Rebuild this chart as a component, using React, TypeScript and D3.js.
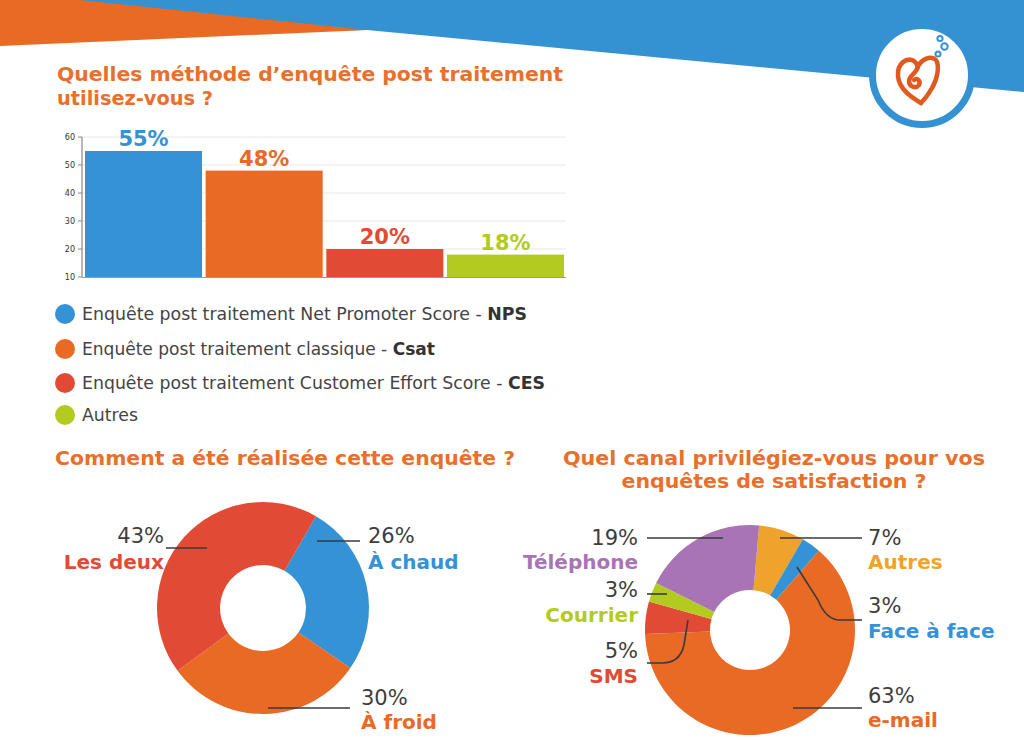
import React from "react";
import * as d3 from "d3";

// ---------- DATA ----------
const barValues = [55, 48, 20, 18];
const barColors = ["#3592d5", "#e86a25", "#e14b35", "#b3cb21"];
const yTicks = [10, 20, 30, 40, 50, 60];
const legendText = [
  "Enquête post traitement Net Promoter Score - ",
  "Enquête post traitement classique - ",
  "Enquête post traitement Customer Effort Score - ",
  "Autres",
];
const legendBold = ["NPS", "Csat", "CES", ""];

const modeLabels = ["À chaud", "À froid", "Les deux"];
const modeValues = [26, 30, 43];
const modeColors = ["#3592d5", "#e86a25", "#e14b35"];

const canalLabels = ["Autres", "Face à face", "e-mail", "SMS", "Courrier", "Téléphone"];
const canalValues = [7, 3, 63, 5, 3, 19];
const canalColors = ["#f0a32c", "#3592d5", "#e86a25", "#e14b35", "#b3cb21", "#a874b5"];

// ---------- LAYOUT ----------
const FONT = "'DejaVu Sans', Verdana, sans-serif";
const TITLE = "#e8702a";
const PCT = "#3d3d3d";
const LINE = "#3a3a3a";
const legendY = [314, 349, 383, 415];
const legendWidths = [445, 353, 463, 56];

type LabelLayout = { x: number; anchor: "start" | "end"; y1: number; y2: number; path: string };

const modeLayout: LabelLayout[] = [
  { x: 368, anchor: "start", y1: 543, y2: 569, path: "M317,541 L360,541" },
  { x: 361, anchor: "start", y1: 705, y2: 729, path: "M268,708 L350,708" },
  { x: 164, anchor: "end", y1: 543, y2: 569, path: "M166,548 L207,548" },
];

const canalLayout: LabelLayout[] = [
  { x: 868, anchor: "start", y1: 545, y2: 569, path: "M780,538 L862,538" },
  { x: 868, anchor: "start", y1: 613, y2: 638, path: "M797,567 L818,600 Q826,620 840,620 L862,620" },
  { x: 868, anchor: "start", y1: 703, y2: 727, path: "M793,708 L862,708" },
  { x: 638, anchor: "end", y1: 658, y2: 683, path: "M688,620 L684,645 Q680,663 662,663 L647,663" },
  { x: 638, anchor: "end", y1: 597, y2: 622, path: "M647,594 L667,594" },
  { x: 638, anchor: "end", y1: 545, y2: 569, path: "M647,538 L723,538" },
];

function Donut({
  cx, cy, r, r0, start, values, colors, labels, layout,
}: {
  cx: number; cy: number; r: number; r0: number; start: number;
  values: number[]; colors: string[]; labels: string[]; layout: LabelLayout[];
}) {
  const a0 = (start * Math.PI) / 180;
  const pie = d3.pie<number>().sort(null).value((d) => d).startAngle(a0).endAngle(a0 + 2 * Math.PI);
  const arc = d3.arc<d3.PieArcDatum<number>>().innerRadius(r0).outerRadius(r);
  const arcs = pie(values);
  return (
    <g>
      <g transform={`translate(${cx},${cy})`}>
        {arcs.map((a, i) => (
          <path key={i} d={arc(a) || ""} fill={colors[i]} />
        ))}
      </g>
      {layout.map((l, i) => (
        <g key={i}>
          <path d={l.path} fill="none" stroke={LINE} strokeWidth={1.6} />
          <text x={l.x} y={l.y1} textAnchor={l.anchor} fontFamily={FONT} fontSize={21} fill={PCT}>
            {values[i]}%
          </text>
          <text x={l.x} y={l.y2} textAnchor={l.anchor} fontFamily={FONT} fontSize={20} fontWeight="bold" fill={colors[i]}>
            {labels[i]}
          </text>
        </g>
      ))}
    </g>
  );
}

export default function App() {
  const x = d3.scaleBand<number>().domain(barValues.map((_, i) => i)).range([85, 564]).paddingInner(0.03).paddingOuter(0);
  const y = d3.scaleLinear().domain([10, 60]).range([277, 137]);

  return (
    <div style={{ position: "absolute", left: 0, top: 0 }}>
      <svg width={1024} height={740} style={{ display: "block", background: "#fff" }}>
        {/* banner */}
        <polygon points="0,0 1024,0 1024,92 367,30 0,40" fill="#3592d2" />
        <polygon points="0,0 80,0 367,30 0,46" fill="#e86a25" />

        {/* logo */}
        <circle cx={922} cy={75} r={49.5} fill="#fff" stroke="#3592d2" strokeWidth={7} />
        <g fill="none" stroke="#e05a1f" strokeWidth={4.5} strokeLinecap="round" strokeLinejoin="round">
          <path d="M921,103 C911,97 899,89 898,76 C897,63 907,57 914,61 C918,64 918,68 917,69" />
          <path d="M917,69 C920,59 931,55 936,60 C940,66 937,80 932,88 C928,95 924,100 921,103" />
          <path d="M917,69 C915,74 909,76 909,81 C909,87 916,89 919,85 C921,81 917,77 914,80" />
        </g>
        <circle cx={940} cy={38.5} r={2.6} fill="#fff" stroke="#3592d2" strokeWidth={2} />
        <circle cx={944.5} cy={46.5} r={3.2} fill="#fff" stroke="#3592d2" strokeWidth={2} />
        <circle cx={938} cy={54} r={2.5} fill="#fff" stroke="#3592d2" strokeWidth={2} />

        {/* title 1 */}
        <text x={57} y={81} fontFamily={FONT} fontWeight="bold" fontSize={19.5} fill={TITLE} textLength={506} lengthAdjust="spacingAndGlyphs">
          Quelles méthode d’enquête post traitement
        </text>
        <text x={57} y={105} fontFamily={FONT} fontWeight="bold" fontSize={19.5} fill={TITLE} textLength={156} lengthAdjust="spacingAndGlyphs">
          utilisez-vous ?
        </text>

        {/* bar chart grid + axes */}
        {yTicks.map((t) => (
          <g key={t}>
            {t > 10 && <line x1={82} x2={566} y1={y(t)} y2={y(t)} stroke="#e8e8e8" strokeWidth={1} />}
            <line x1={78} x2={82} y1={y(t)} y2={y(t)} stroke="#888" strokeWidth={1} />
            <text x={75} y={y(t) + 3} textAnchor="end" fontFamily={FONT} fontSize={8} fill="#333">
              {t}
            </text>
          </g>
        ))}
        {barValues.map((v, i) => (
          <g key={i}>
            <rect x={x(i)} y={y(v)} width={x.bandwidth()} height={y(10) - y(v)} fill={barColors[i]} />
            <text
              x={(x(i) as number) + x.bandwidth() / 2}
              y={y(v) - 5}
              textAnchor="middle"
              fontFamily={FONT}
              fontWeight="bold"
              fontSize={21}
              fill={barColors[i]}
            >
              {v}%
            </text>
          </g>
        ))}
        <line x1={82} x2={82} y1={137} y2={277} stroke="#888" strokeWidth={1.2} />
        <line x1={82} x2={566} y1={277.5} y2={277.5} stroke="#999" strokeWidth={1.2} />

        {/* legend */}
        {legendText.map((t, i) => {
          const cy = legendY[i];
          return (
            <g key={i}>
              <circle cx={65} cy={cy} r={10} fill={barColors[i]} />
              <text x={82} y={cy + 6} fontFamily={FONT} fontSize={17} fill="#444" textLength={legendWidths[i]} lengthAdjust="spacingAndGlyphs">
                {t}
                {legendBold[i] && (
                  <tspan fontWeight="bold" fill="#333">
                    {legendBold[i]}
                  </tspan>
                )}
              </text>
            </g>
          );
        })}

        {/* section titles */}
        <text x={55} y={465} fontFamily={FONT} fontWeight="bold" fontSize={19.5} fill={TITLE} textLength={460} lengthAdjust="spacingAndGlyphs">
          Comment a été réalisée cette enquête ?
        </text>
        <text x={774} y={465} textAnchor="middle" fontFamily={FONT} fontWeight="bold" fontSize={19.5} fill={TITLE} textLength={422} lengthAdjust="spacingAndGlyphs">
          Quel canal privilégiez-vous pour vos
        </text>
        <text x={774} y={488} textAnchor="middle" fontFamily={FONT} fontWeight="bold" fontSize={19.5} fill={TITLE} textLength={305} lengthAdjust="spacingAndGlyphs">
          enquêtes de satisfaction ?
        </text>

        <Donut cx={263} cy={608} r={106} r0={43} start={30} values={modeValues} colors={modeColors} labels={modeLabels} layout={modeLayout} />
        <Donut cx={750} cy={630} r={105} r0={40} start={5} values={canalValues} colors={canalColors} labels={canalLabels} layout={canalLayout} />
      </svg>
    </div>
  );
}
